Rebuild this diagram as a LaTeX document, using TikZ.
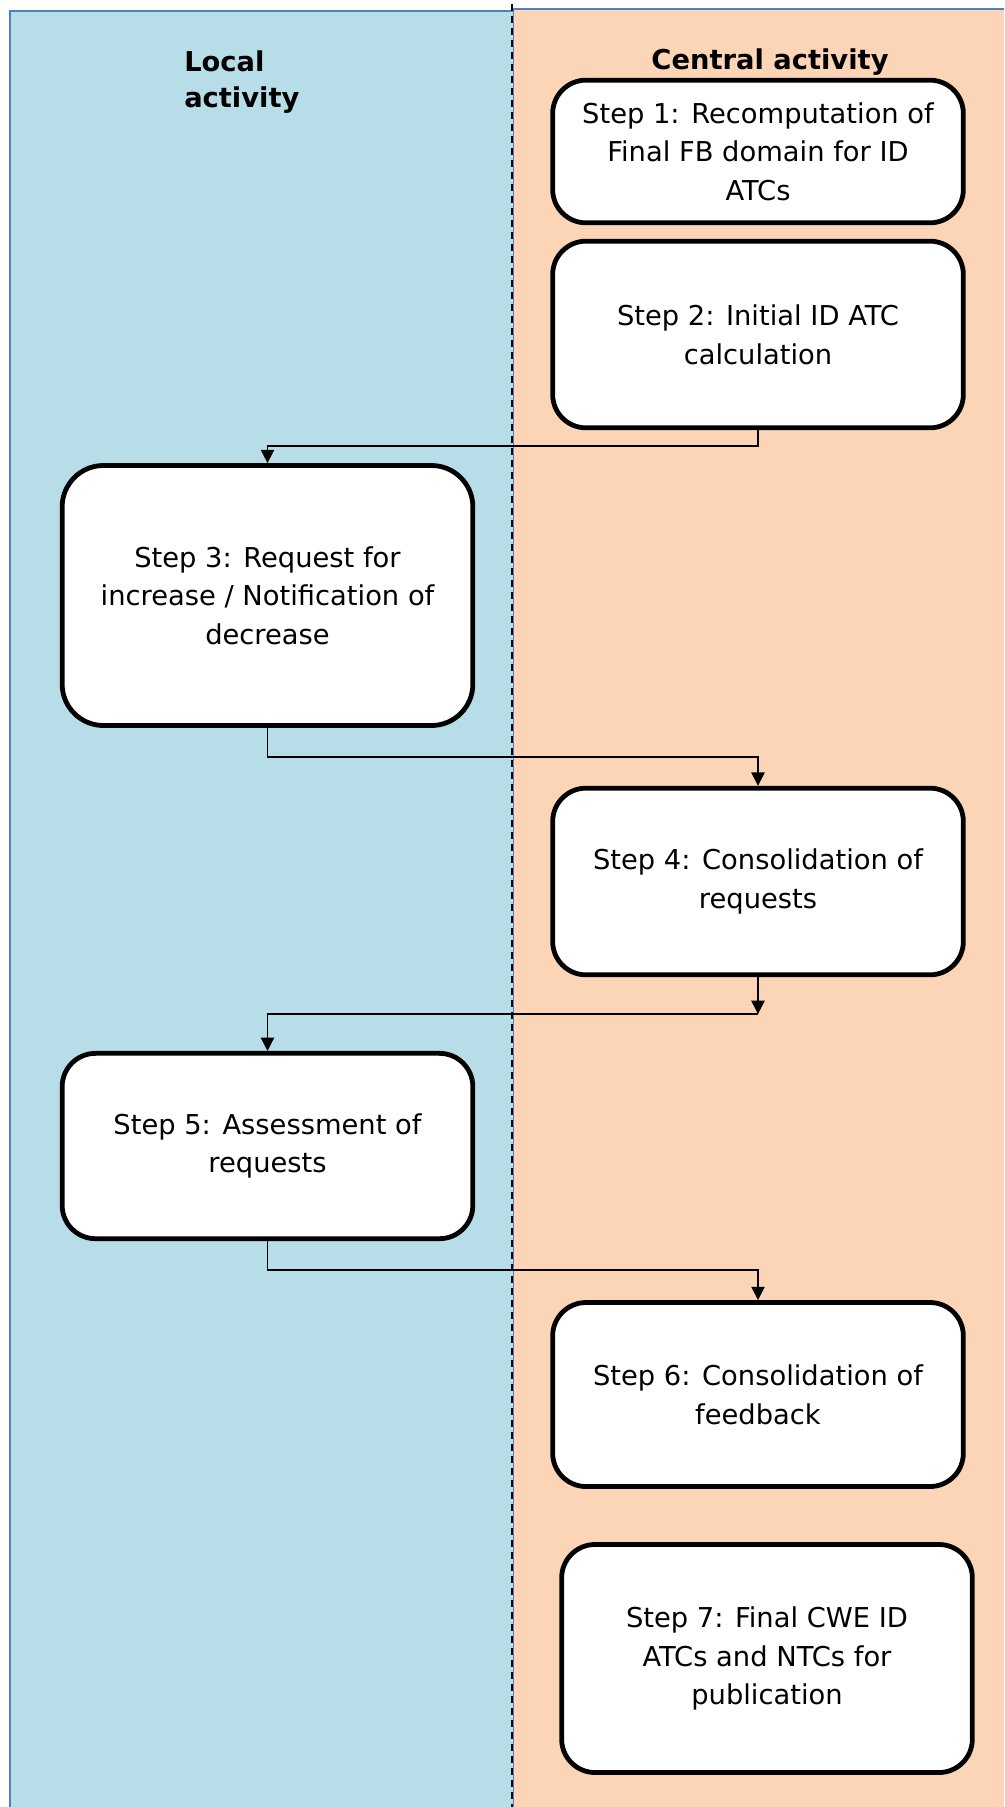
\documentclass[tikz,border=0pt]{standalone}
\usepackage{fontspec}
\setmainfont{DejaVu Sans}
\usetikzlibrary{arrows.meta,calc}
\definecolor{lanelocal}{HTML}{B7DDE8}
\definecolor{lanecentral}{HTML}{FBD5B5}
\definecolor{laneedge}{HTML}{4F81BD}
\tikzset{
  stepbox/.style={draw=black, line width=3.6pt, fill=white, rounded corners=25pt,
    align=center, inner sep=0pt, font=\fontsize{20.5}{29}\selectfont,
    minimum width=308pt},
  lanetitle/.style={font=\fontsize{20.5}{28}\selectfont\bfseries, inner sep=0pt},
  flow/.style={draw=black, line width=1.1pt, -{Triangle[length=10pt,width=10pt]}},
}
\begin{document}
\begin{tikzpicture}[x=0.75pt,y=-0.75pt]
\useasboundingbox (0,0) rectangle (1004,1807);
% lanes
\fill[lanecentral] (513,9) rectangle (1004,1807);
\draw[laneedge, line width=1.6pt] (513,1807) -- (513,9) -- (1004,9);
\fill[lanelocal] (10,11) rectangle (513,1807);
\draw[laneedge, line width=1.6pt] (10,1807) -- (10,11) -- (513,11);
\coordinate (divtop) at (512,4);
\coordinate (divbot) at (512,1807);
\draw[black, line width=1.3pt, dash pattern=on 5pt off 4pt] (divtop) -- (divbot);
% titles
\node[lanetitle, anchor=west, align=left] (tlocal) at (184,82) {Local\\[-0.5pt]activity};
\node[lanetitle] (tcentral) at (770,62) {Central activity};
% steps
\node[stepbox, minimum height=107pt] (s1) at (758,151.5)
  {Step 1: Recomputation of\\Final FB domain for ID\\ATCs};
\node[stepbox, minimum height=140pt] (s2) at (758,334.5)
  {Step 2: Initial ID ATC\\calculation};
\node[stepbox, minimum height=195pt, rounded corners=31pt] (s3) at (267.5,595.5)
  {Step 3: Request for\\increase / Notification of\\decrease};
\node[stepbox, minimum height=140pt] (s4) at (758,881.5)
  {Step 4: Consolidation of\\requests};
\node[stepbox, minimum height=139pt] (s5) at (267.5,1146)
  {Step 5: Assessment of\\requests};
\node[stepbox, minimum height=138pt] (s6) at (758,1394.5)
  {Step 6: Consolidation of\\feedback};
\node[stepbox, minimum height=171pt] (s7) at (767,1658.5)
  {Step 7: Final CWE ID\\ATCs and NTCs for\\publication};
% connectors
\coordinate (b23) at (267.5,446);
\coordinate (b34) at (758,757);
\coordinate (k45) at (758,1014);
\coordinate (b56) at (758,1270);
\draw[flow] (s2.south) |- (b23) -- (s3.north);
\draw[flow] (s3.south) |- (b34) -- (s4.north);
\draw[flow] (s4.south) -- (k45);
\draw[flow] (k45) -| (s5.north);
\draw[flow] (s5.south) |- (b56) -- (s6.north);
\end{tikzpicture}
\end{document}
